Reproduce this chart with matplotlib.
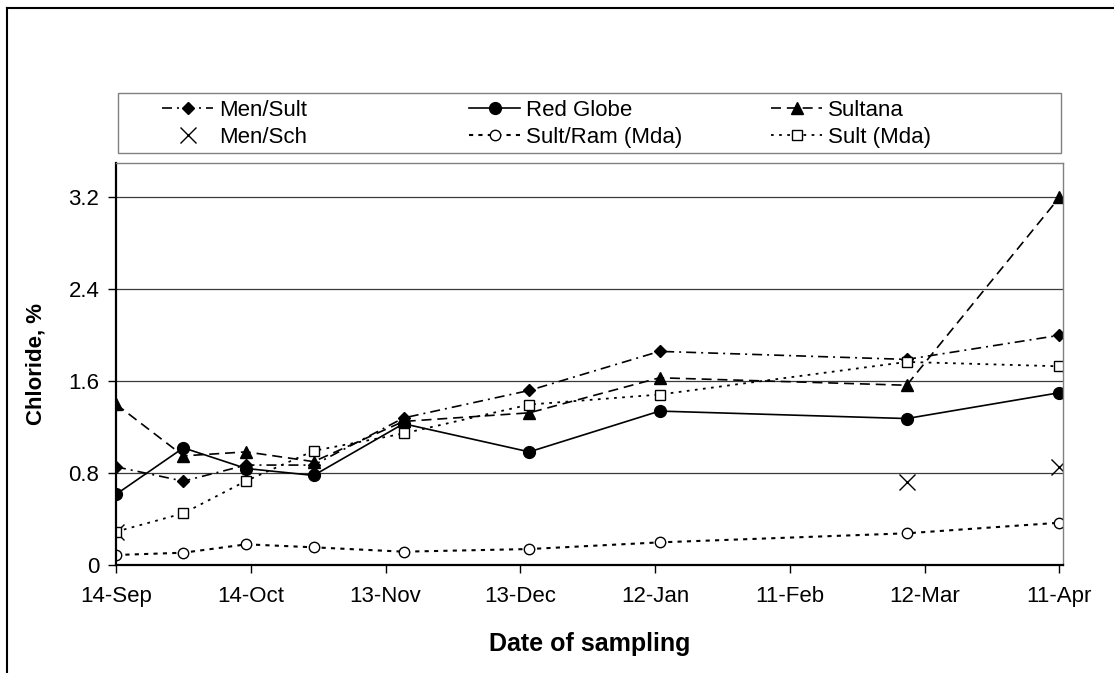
import matplotlib
matplotlib.use('Agg')
import matplotlib.pyplot as plt
from matplotlib.lines import Line2D
from matplotlib.patches import Rectangle
import datetime as dt

plt.rcParams['font.family'] = ['Liberation Sans', 'DejaVu Sans']

# ---------------- data ----------------
sample_dates = ['2003-09-14', '2003-09-29', '2003-10-13', '2003-10-28', '2003-11-17',
                '2003-12-15', '2004-01-13', '2004-03-08', '2004-04-11']
men_sult = [0.855, 0.73, 0.87, 0.87, 1.28, 1.52, 1.86, 1.79, 2.00]
red_globe = [0.615, 1.02, 0.84, 0.78, 1.23, 0.985, 1.34, 1.275, 1.50]
sultana = [1.40, 0.95, 0.985, 0.90, 1.25, 1.325, 1.63, 1.565, 3.20]
men_sch_dates = ['2003-09-14', '2004-03-08', '2004-04-11']
men_sch = [0.29, 0.725, 0.85]
sult_ram_mda = [0.087, 0.107, 0.18, 0.154, 0.116, 0.139, 0.197, 0.276, 0.368]
sult_mda = [0.29, 0.45, 0.733, 0.994, 1.145, 1.397, 1.484, 1.768, 1.73]

tick_dates = ['2003-09-14', '2003-10-14', '2003-11-13', '2003-12-13',
              '2004-01-12', '2004-02-11', '2004-03-12', '2004-04-11']
tick_labels = ['14-Sep', '14-Oct', '13-Nov', '13-Dec', '12-Jan', '11-Feb', '12-Mar', '11-Apr']
y_ticks = [0, 0.8, 1.6, 2.4, 3.2]
y_tick_labels = ['0', '0.8', '1.6', '2.4', '3.2']

to_d = lambda s: dt.datetime.strptime(s, '%Y-%m-%d')
dates = [to_d(s) for s in sample_dates]
sch_dates = [to_d(s) for s in men_sch_dates]

# ---------------- figure ----------------
W, H = 1114, 673
fig = plt.figure(figsize=(W / 100, H / 100), dpi=100)
ax = fig.add_axes([116 / W, 108 / H, 947 / W, 402 / H])

lw = 1.2
ax.plot(dates, men_sult, color='black', lw=lw, ls=(0, (6, 3, 1.2, 3)),
        marker='D', ms=6.5, mfc='black', mec='black', label='Men/Sult')
ax.plot(dates, red_globe, color='black', lw=lw, ls='-',
        marker='o', ms=8.5, mfc='black', mec='black', label='Red Globe')
ax.plot(dates, sultana, color='black', lw=lw, ls=(0, (6, 3.5)),
        marker='^', ms=8, mfc='black', mec='black', label='Sultana')
ax.plot(sch_dates, men_sch, color='black', ls='none',
        marker='x', ms=12, mew=1.0, label='Men/Sch')
ax.plot(dates, sult_ram_mda, color='black', lw=1.5, ls=(0, (2, 2.5)),
        marker='o', ms=7.5, mfc='white', mec='black', mew=1.0, label='Sult/Ram (Mda)')
ax.plot(dates, sult_mda, color='black', lw=1.3, ls=(0, (1.5, 3)),
        marker='s', ms=7.5, mfc='white', mec='black', mew=1.0, label='Sult (Mda)')

x0 = to_d('2003-09-14')
ax.set_xlim(x0, x0 + dt.timedelta(days=210.8))
ax.set_ylim(0, 3.5)

ax.set_xticks([to_d(s) for s in tick_dates])
ax.set_xticklabels(tick_labels)
ax.set_yticks(y_ticks)
ax.set_yticklabels(y_tick_labels)

ax.yaxis.grid(True, color='#3a3a3a', lw=0.9)
ax.set_axisbelow(True)

for side in ['left', 'bottom']:
    ax.spines[side].set_color('black')
    ax.spines[side].set_linewidth(1.6)
for side in ['top', 'right']:
    ax.spines[side].set_color('#808080')
    ax.spines[side].set_linewidth(1.0)

ax.tick_params(axis='both', direction='out', length=6, width=1, color='black', labelsize=16)
ax.tick_params(axis='y', pad=6)
ax.tick_params(axis='x', pad=9)

ax.set_ylabel('Chloride, %', fontsize=16, fontweight='bold')
ax.yaxis.set_label_coords(-0.0845, 0.5)
ax.yaxis.label.set_va('center')
ax.set_xlabel('Date of sampling', fontsize=18, fontweight='bold')
ax.xaxis.set_label_coords(0.5, -0.1965)
ax.xaxis.label.set_va('center')

# ---------------- legend ----------------
handles, labels = ax.get_legend_handles_labels()
hmap = dict(zip(labels, handles))
columns = [(['Men/Sult', 'Men/Sch'], 162), (['Red Globe', 'Sult/Ram (Mda)'], 469),
           (['Sultana', 'Sult (Mda)'], 771)]
for labs, xpx in columns:
    leg = fig.legend([hmap[l] for l in labs], labs, loc='upper left',
                     bbox_to_anchor=(xpx / W, 1 - 99.5 / H), bbox_transform=fig.transFigure,
                     frameon=False, borderpad=0, borderaxespad=0, fontsize=16,
                     handlelength=2.3, handletextpad=0.25, labelspacing=0.3, numpoints=1)

fig.add_artist(Rectangle((118 / W, 1 - 153 / H), (1061 - 118) / W, 60 / H,
                         transform=fig.transFigure, fill=False, ec='#808080', lw=1.0))

# outer chart border (top and left edges visible)
fig.add_artist(Line2D([7 / W, 7 / W], [0, 1 - 8 / H], transform=fig.transFigure,
                      color='black', lw=1.5))
fig.add_artist(Line2D([7 / W, 1], [1 - 8 / H, 1 - 8 / H], transform=fig.transFigure,
                      color='black', lw=1.5))

fig.savefig('out.png', dpi=100)
